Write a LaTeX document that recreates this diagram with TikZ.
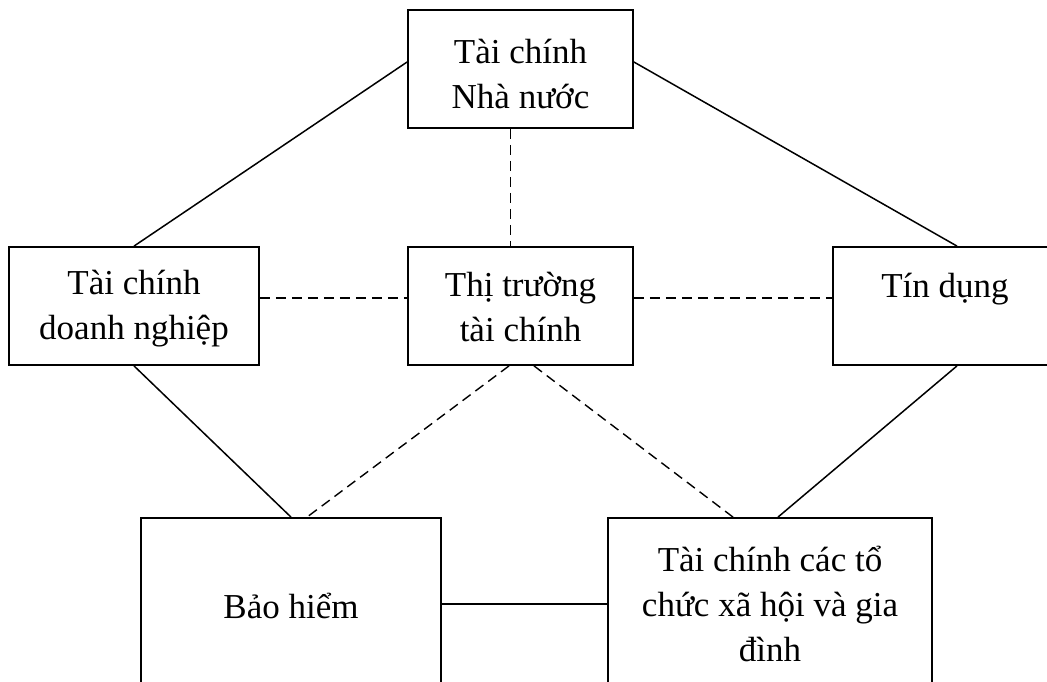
\documentclass[tikz,border=0pt]{standalone}
\usepackage{fontspec}
\setmainfont{Liberation Serif}
% invisible strut that pushes the first text line of a box downwards
\newcommand{\padtop}[1]{\rule{0pt}{#1}}
\begin{document}
\begin{tikzpicture}[x=1pt,y=-1pt,
  box/.style={draw, line width=1.8pt, rectangle, inner sep=0pt, align=center,
    font=\fontsize{35}{45}\selectfont},
  link/.style={line width=1.5pt},
  weak/.style={line width=1.4pt, dash pattern=on 10pt off 6pt}]
  \useasboundingbox (0,0) rectangle (1047,682);
  \clip (0,0) rectangle (1047,682);

  % boxes: centre and size
  \node[box, minimum width=225pt, minimum height=118pt] (nn) at (520.5,69) {\padtop{34pt}Tài chính\\Nhà nước};
  \node[box, minimum width=250pt, minimum height=118pt] (dn) at (134,306) {\padtop{30pt}Tài chính\\doanh nghiệp};
  \node[box, minimum width=225pt, minimum height=118pt] (tt) at (520.5,306) {\padtop{26pt}Thị trường\\tài chính};
  \node[box, minimum width=224pt, minimum height=118pt] (td) at (945,306) {\padtop{28pt}Tín dụng\\\phantom{X}};
  \node[box, minimum width=300pt, minimum height=172pt] (bh) at (291,604) {\padtop{30pt}Bảo hiểm};
  \node[box, minimum width=324pt, minimum height=172pt] (xh) at (770,604) {Tài chính các tổ\\chức xã hội và gia\\đình};

  % solid links
  \draw[link] ([yshift=7pt]nn.west) -- (dn.north);
  \draw[link] ([yshift=7pt]nn.east) -- ([xshift=12pt]td.north);
  \draw[link] (dn.south) -- (bh.north);
  \draw[link] ([xshift=12pt]td.south) -- ([xshift=8pt]xh.north);
  \draw[link] (bh.east) -- (xh.west);

  % dashed links through the financial market
  \draw[weak] ([xshift=-10pt]nn.south) -- ([xshift=-10pt]tt.north);
  \draw[weak] ([yshift=8pt]dn.east) -- ([yshift=8pt]tt.west);
  \draw[weak] ([yshift=8pt]tt.east) -- ([yshift=8pt]td.west);
  \draw[weak] ([xshift=-11.5pt]tt.south) -- ([xshift=16pt]bh.north);
  \draw[weak] ([xshift=13.5pt]tt.south) -- ([xshift=-37pt]xh.north);
\end{tikzpicture}
\end{document}
